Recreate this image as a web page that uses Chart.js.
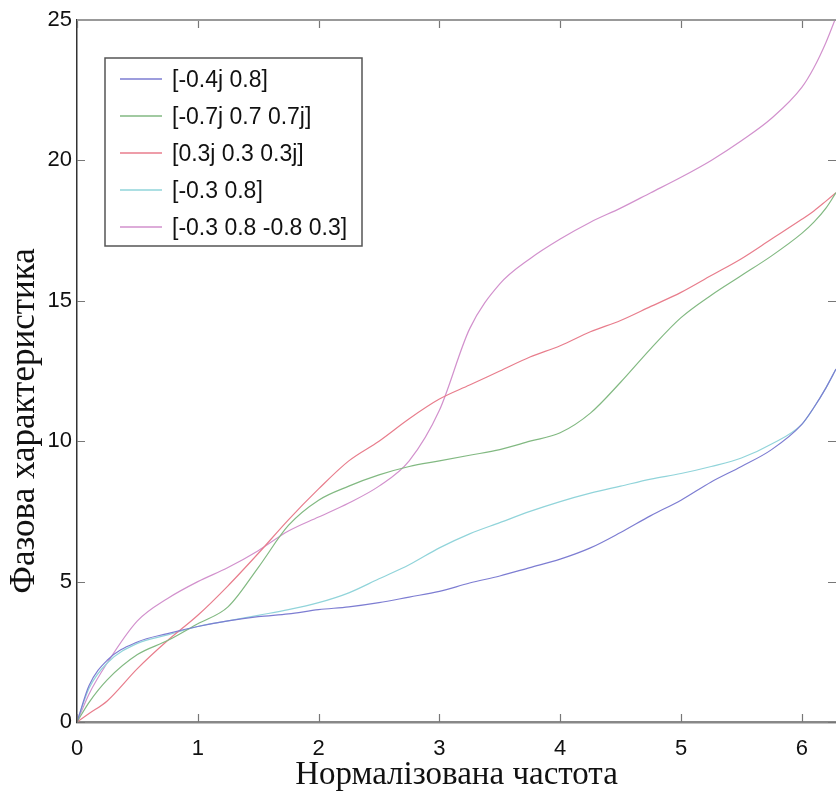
<!DOCTYPE html>
<html>
<head>
<meta charset="utf-8">
<script src="https://cdn.jsdelivr.net/npm/chart.js@4.4.0/dist/chart.umd.min.js"></script>
<style>
  body { margin: 0; background: #fff; }
</style>
</head>
<body>
<canvas id="phaseChart" width="836" height="794"></canvas>
<script>
// normalized frequency, 0 .. 2pi
const freq = [0, 0.1, 0.25, 0.5, 0.75, 1, 1.25, 1.5, 1.75, 2, 2.25, 2.5, 2.75, 3, 3.25, 3.5, 3.75, 4,
  4.25, 4.5, 4.75, 5, 5.25, 5.5, 5.75, 6, 6.1, 6.2, 6.2832]

const seriesNames = ['[-0.4j 0.8]', '[-0.7j 0.7 0.7j]', '[0.3j 0.3 0.3j]', '[-0.3 0.8]', '[-0.3 0.8 -0.8 0.3]']

const phaseA = [0, 1.3, 2.2, 2.85, 3.15, 3.4, 3.6, 3.75, 3.85, 4.0, 4.1, 4.25, 4.45, 4.65, 4.95, 5.2, 5.5, 5.8,
  6.2, 6.75, 7.35, 7.9, 8.55, 9.1, 9.7, 10.6, 11.2, 11.9, 12.57]
const phaseB = [0, 0.7, 1.5, 2.4, 2.9, 3.5, 4.1, 5.5, 7.0, 7.9, 8.4, 8.8, 9.1, 9.3, 9.5, 9.7, 10.0, 10.3,
  11.0, 12.1, 13.3, 14.4, 15.2, 15.9, 16.6, 17.4, 17.8, 18.3, 18.85]
const phaseC = [0, 0.3, 0.75, 1.9, 2.9, 3.8, 4.85, 6.0, 7.2, 8.3, 9.3, 10.0, 10.8, 11.5, 12.0, 12.5, 13.0, 13.4,
  13.9, 14.3, 14.8, 15.3, 15.9, 16.5, 17.2, 17.9, 18.2, 18.55, 18.85]
const phaseD = [0, 1.2, 2.1, 2.8, 3.1, 3.4, 3.6, 3.8, 4.0, 4.25, 4.6, 5.1, 5.6, 6.2, 6.7, 7.1, 7.5, 7.85,
  8.15, 8.4, 8.65, 8.85, 9.1, 9.4, 9.9, 10.6, 11.2, 11.9, 12.57]
const phaseE = [0, 1.0, 2.1, 3.6, 4.4, 5.0, 5.5, 6.1, 6.8, 7.3, 7.8, 8.4, 9.3, 11.1, 14.0, 15.6, 16.5, 17.2,
  17.8, 18.3, 18.85, 19.4, 20.0, 20.7, 21.5, 22.6, 23.3, 24.2, 25.1]

const lineColors = ['rgb(125,125,210)', 'rgb(130,185,130)', 'rgb(232,125,140)', 'rgb(145,212,218)', 'rgb(210,145,205)']
const allPhases = [phaseA, phaseB, phaseC, phaseD, phaseE]

const datasets = allPhases.map((ys, i) => ({
  label: seriesNames[i],
  data: ys.map((y, k) => ({ x: freq[k], y: y })),
  borderColor: lineColors[i],
  borderWidth: 1.2,
  pointRadius: 0,
  cubicInterpolationMode: 'monotone',
  fill: false
}))

// matlab-ish inner ticks, legend box and axis titles
const extras = {
  id: 'extras',
  afterDraw(chart) {
    const ctx = chart.ctx
    const area = chart.chartArea
    const xs = chart.scales.x
    const ys = chart.scales.y
    ctx.save()
    ctx.strokeStyle = '#777'
    ctx.lineWidth = 1.2
    xs.ticks.forEach(t => {
      const px = Math.round(xs.getPixelForValue(t.value)) + 0.5
      ctx.beginPath()
      ctx.moveTo(px, area.bottom); ctx.lineTo(px, area.bottom - 8)
      ctx.moveTo(px, area.top); ctx.lineTo(px, area.top + 8)
      ctx.stroke()
    })
    ys.ticks.forEach(t => {
      const py = Math.round(ys.getPixelForValue(t.value)) + 0.5
      ctx.beginPath()
      ctx.moveTo(area.left, py); ctx.lineTo(area.left + 8, py)
      ctx.moveTo(area.right, py); ctx.lineTo(area.right - 8, py)
      ctx.stroke()
    })
    // top border
    ctx.strokeStyle = '#999'
    ctx.lineWidth = 2
    ctx.beginPath()
    ctx.moveTo(area.left, area.top); ctx.lineTo(area.right, area.top)
    ctx.stroke()

    // legend
    const bx = 105, by = 58, bw = 257, bh = 188
    ctx.fillStyle = '#fff'
    ctx.fillRect(bx, by, bw, bh)
    ctx.strokeStyle = '#555'
    ctx.lineWidth = 1.5
    ctx.strokeRect(bx, by, bw, bh)
    ctx.font = '23px "Liberation Sans", Arial, sans-serif'
    ctx.textBaseline = 'middle'
    ctx.textAlign = 'left'
    seriesNames.forEach((name, i) => {
      const ly = 79 + i * 37
      ctx.strokeStyle = lineColors[i]
      ctx.lineWidth = 1.5
      ctx.beginPath()
      ctx.moveTo(120, ly); ctx.lineTo(162, ly)
      ctx.stroke()
      ctx.fillStyle = '#111'
      ctx.fillText(name, 172, ly + 2)
    })

    // x axis title
    ctx.fillStyle = '#111'
    ctx.textAlign = 'center'
    ctx.font = '33px "Liberation Serif", "Times New Roman", serif'
    ctx.fillText('Нормалізована частота', (area.left + area.right) / 2, 775)

    // y axis title
    ctx.translate(25, 421)
    ctx.rotate(-Math.PI / 2)
    ctx.font = '35px "Liberation Serif", "Times New Roman", serif'
    ctx.fillText('Фазова характеристика', 0, 0)
    ctx.restore()
  }
}

const phaseChart = new Chart(document.getElementById('phaseChart').getContext('2d'), {
  type: 'line',
  data: { datasets: datasets },
  options: {
    responsive: false,
    animation: false,
    layout: { padding: { top: 20, right: 0, left: 0, bottom: 0 } },
    plugins: {
      legend: { display: false },
      tooltip: { enabled: false }
    },
    scales: {
      x: {
        type: 'linear',
        min: 0,
        max: 2 * Math.PI,
        afterFit: s => { s.height = 72 },
        border: { color: '#888', width: 2.5 },
        grid: { display: false },
        ticks: {
          stepSize: 1,
          includeBounds: false,
          padding: 6,
          color: '#111',
          font: { family: '"Liberation Sans", Arial, sans-serif', size: 22 }
        }
      },
      y: {
        min: 0,
        max: 25,
        afterFit: s => { s.width = 77 },
        border: { color: '#333', width: 1.5 },
        grid: { display: false, drawTicks: false },
        ticks: {
          stepSize: 5,
          padding: 5,
          color: '#111',
          font: { family: '"Liberation Sans", Arial, sans-serif', size: 22 }
        }
      }
    }
  },
  plugins: [extras]
})
</script>
</body>
</html>
